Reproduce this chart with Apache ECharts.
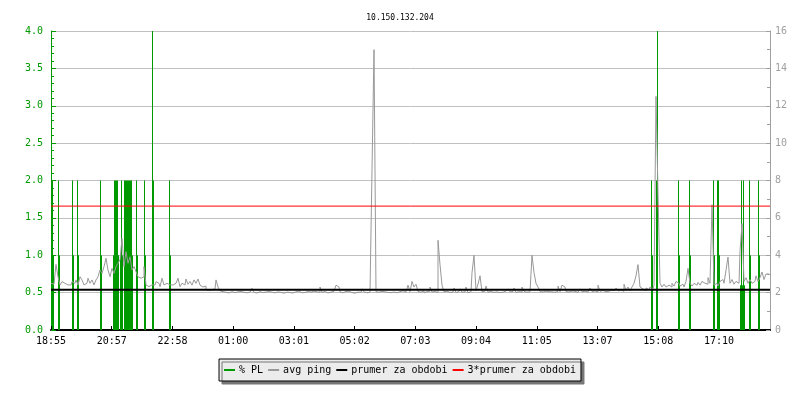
<!DOCTYPE html>
<html>
<head>
<meta charset="utf-8">
<script src="https://cdn.jsdelivr.net/npm/echarts@6/dist/echarts.min.js"></script>
<style>
html,body{margin:0;padding:0;background:#fff;}
#chart{width:800px;height:400px;}
</style>
</head>
<body>
<div id="chart"></div>
<script>
// ---- data ----
const chartTitle = '10.150.132.204';
const timeLabels = ['18:55','20:57','22:58','01:00','03:01','05:02','07:03','09:04','11:05','13:07','15:08','17:10'];
const labelStepMin = 121.45;      // minutes between time labels
const spanMin = 1438;             // minutes covered by the chart
const pingStepMin = 4;            // sampling step of avg ping, minutes

// avg ping (ms, right axis), one value every 4 minutes from 18:55
const avgPing = [
2.50,2.45,2.41,3.51,2.85,2.41,2.59,2.50,2.41,2.50,
2.41,2.59,2.50,2.68,2.41,2.85,2.68,2.41,2.50,2.77,
2.50,2.68,2.41,2.68,2.85,3.21,3.03,3.39,3.84,3.21,
2.85,3.30,3.03,3.39,3.57,3.75,4.90,3.39,4.19,3.57,
3.92,3.21,3.39,3.12,2.85,2.77,2.85,3.39,2.41,2.32,
2.41,2.50,2.41,2.59,2.50,2.32,2.77,2.41,2.50,2.41,
2.32,2.41,2.50,2.41,2.77,2.32,2.50,2.41,2.73,2.45,
2.60,2.40,2.68,2.50,2.73,2.40,2.30,2.35,2.15,2.12,
2.15,2.10,2.20,2.68,2.30,2.10,2.05,2.02,2.08,1.98,
2.05,2.10,2.00,2.04,1.97,2.06,2.02,2.10,1.99,2.03,
2.07,2.23,2.01,1.98,2.05,2.09,2.00,2.03,1.96,2.06,
2.02,2.08,1.99,2.04,2.10,2.01,1.97,2.05,2.03,2.00,
2.07,1.98,2.04,2.02,2.09,1.99,2.05,2.01,2.06,1.97,
2.03,2.08,2.00,2.04,2.02,2.30,2.01,2.06,1.98,2.05,
2.03,2.07,2.00,2.40,2.30,2.04,1.99,2.06,2.02,2.08,
2.00,2.05,1.97,2.03,2.07,2.01,2.20,2.04,1.99,2.02,
2.05,8.56,15.0,2.05,2.02,2.07,1.98,2.04,2.01,2.06,
2.00,2.03,2.08,1.99,2.05,2.02,2.10,2.04,2.07,2.40,
2.05,2.60,2.30,2.45,2.06,2.02,2.10,1.99,2.05,2.08,
2.30,2.03,2.06,2.00,4.80,3.50,2.40,2.04,2.08,2.01,
2.05,2.03,2.25,2.00,2.06,2.20,2.02,2.04,2.30,1.99,
2.05,3.07,4.00,2.10,2.46,2.90,2.05,2.08,2.35,2.03,
2.06,2.01,2.07,2.04,2.00,2.05,2.02,2.08,2.03,2.20,
2.04,2.06,2.25,2.01,2.05,2.03,2.30,2.07,2.02,2.05,
2.09,4.00,3.07,2.50,2.30,2.06,2.03,2.08,2.01,2.05,
2.04,2.10,2.02,2.07,2.35,2.05,2.40,2.30,2.06,2.03,
2.09,2.04,2.07,2.02,2.10,2.20,2.05,2.08,2.03,2.11,
2.25,2.06,2.09,2.04,2.40,2.07,2.12,2.05,2.10,2.08,
2.13,2.06,2.11,2.25,2.09,2.14,2.07,2.45,2.12,2.30,
2.10,2.30,2.50,2.90,3.50,2.30,2.20,2.10,2.25,2.15,
2.30,2.20,2.40,12.5,7.30,2.50,2.30,2.45,2.30,2.40,
2.30,2.50,2.35,2.60,2.50,2.35,2.45,2.30,2.60,3.30,
2.50,2.35,2.50,2.40,2.55,2.40,2.60,2.50,2.45,2.80,
2.50,6.70,2.40,2.50,2.35,2.60,2.70,2.50,3.20,3.90,
2.50,2.70,2.45,2.60,2.50,4.20,5.70,2.60,2.80,2.50,
2.70,2.50,2.60,2.90,2.60,2.80,3.10,2.70,3.00,3.00
];

// packet loss (%, left axis): minutes after 18:55 and value
const plMinutes = [3,5, 15,17, 43,45, 53,55, 99,101, 125,127,129,131,133,135, 139,141,143,
  147,149,151,153,155,157,159,161,163, 171,173, 187,189, 203,205, 237,239,
  1201,1203, 1211,1213, 1255,1257, 1277,1279, 1325,1327, 1333,1335,1337,
  1379,1381,1383,1385,1387, 1397,1399, 1415,1417];
const plValues = [2,1, 2,1, 2,1, 2,1, 2,1, 1,2,2,2,2,1, 1,2,1,
  2,2,2,2,2,2,2,2,1, 2,1, 2,1, 4,2, 2,1,
  2,1, 2,4, 2,1, 2,1, 2,1, 2,2,1,
  0.6,2,0.6,2,0.6, 2,1, 2,1];

const avgPeriod = 2.15;     // prumer za obdobi (ms)
const avgPeriod3 = 6.63;    // 3*prumer za obdobi (ms)

const seriesNames = ['% PL','avg ping','prumer za obdobi','3*prumer za obdobi'];

// ---- chart ----
const GREEN = '#009900', GRAYL = '#999999', AXGRAY = '#a0a0a0';
const FONT = 'DejaVu Sans Mono';
const chart = echarts.init(document.getElementById('chart'), null, {renderer:'canvas'});

const pingData = avgPing.map((v, i) => [i * pingStepMin, v]);
const plData = plMinutes.map((m, i) => [m, plValues[i]]);

chart.setOption({
  animation: false,
  backgroundColor: '#ffffff',
  title: {
    text: chartTitle, left: 'center', top: 9,
    textStyle: {fontFamily: FONT, fontSize: 8, fontWeight: 'normal', color: '#000'}
  },
  legend: {
    data: seriesNames,
    left: 'center', top: 359,
    icon: 'rect', itemWidth: 11, itemHeight: 2, itemGap: 5,
    padding: [6, 5],
    backgroundColor: '#ececec', borderColor: '#000', borderWidth: 1, borderRadius: 0,
    shadowColor: '#777', shadowOffsetX: 3, shadowOffsetY: 3, shadowBlur: 0,
    textStyle: {fontFamily: FONT, fontSize: 10, color: '#000', padding: [0,0,0,-1]},
    selectedMode: false
  },
  grid: {left: 51, right: 30, top: 31, bottom: 70, containLabel: false},
  xAxis: {
    type: 'value', min: 0, max: spanMin, interval: labelStepMin,
    axisLine: {show: true, onZero: false, lineStyle: {color: '#000', width: 2}},
    axisTick: {show: true, inside: true, length: 4, lineStyle: {color: '#000'}},
    axisLabel: {
      margin: 6, fontFamily: FONT, fontSize: 10, color: '#000',
      showMaxLabel: false,
      formatter: v => { const k = Math.round(v / labelStepMin); return (Math.abs(k * labelStepMin - v) < 0.5 && timeLabels[k]) ? timeLabels[k] : ''; }
    },
    splitLine: {show: false}
  },
  yAxis: [
    {
      type: 'value', position: 'left', min: 0, max: 4, interval: 0.5,
      axisLine: {show: true, lineStyle: {color: GREEN, width: 1}},
      axisTick: {show: true, inside: true, length: 5, lineStyle: {color: GREEN}},
      minorTick: {show: true, splitNumber: 5, length: 3, lineStyle: {color: GREEN}},
      axisLabel: {margin: 8, fontFamily: FONT, fontSize: 10, color: GREEN, formatter: v => v.toFixed(1)},
      splitLine: {show: true, lineStyle: {color: '#c0c0c0', width: 1}}
    },
    {
      type: 'value', position: 'right', min: 0, max: 16, interval: 2,
      axisLine: {show: true, lineStyle: {color: AXGRAY, width: 1}},
      axisTick: {show: true, inside: true, length: 4, lineStyle: {color: AXGRAY}},
      minorTick: {show: true, splitNumber: 2, length: 3, lineStyle: {color: AXGRAY}},
      axisLabel: {margin: 5, fontFamily: FONT, fontSize: 10, color: AXGRAY},
      splitLine: {show: false}
    }
  ],
  series: [
    {
      name: seriesNames[0], type: 'bar', yAxisIndex: 0, data: plData,
      barWidth: 1, itemStyle: {color: GREEN}, z: 1, large: false
    },
    {
      name: seriesNames[1], type: 'line', yAxisIndex: 1, data: pingData, step: 'middle',
      showSymbol: false, symbol: 'none', lineStyle: {color: GRAYL, width: 1}, itemStyle: {color: GRAYL}, z: 2
    },
    {
      name: seriesNames[2], type: 'line', yAxisIndex: 1, data: [[0, avgPeriod], [spanMin, avgPeriod]],
      showSymbol: false, symbol: 'none', lineStyle: {color: '#000', width: 2}, itemStyle: {color: '#000'}, z: 3
    },
    {
      name: seriesNames[3], type: 'line', yAxisIndex: 1, data: [[0, avgPeriod3], [spanMin, avgPeriod3]],
      showSymbol: false, symbol: 'none', lineStyle: {color: '#ff0000', width: 1}, itemStyle: {color: '#ff0000'}, z: 4
    }
  ]
});
</script>
</body>
</html>
